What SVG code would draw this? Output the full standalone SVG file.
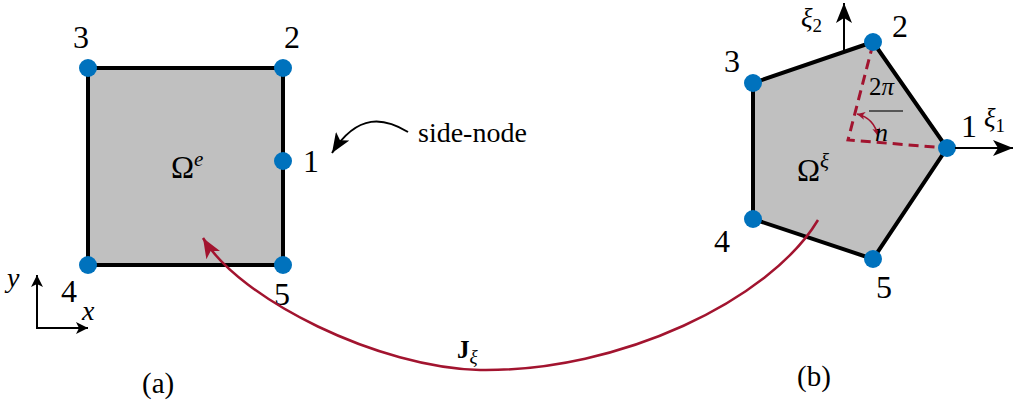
<svg xmlns="http://www.w3.org/2000/svg" width="1013" height="410" viewBox="0 0 1013 410">
<style>
.el{fill:#c0c0c0;stroke:#000;stroke-width:4;stroke-linejoin:miter}
.nd{fill:#0072bd}
.t{font-family:"Liberation Serif",serif;fill:#000}
.num{font-size:32px}
.lab{font-size:29px}
.i{font-style:italic}
.ax{stroke:#000;stroke-width:2;fill:none}
.red{stroke:#a2142f;fill:none}
</style>
<defs>
<marker id="ab" markerWidth="12" markerHeight="12" refX="12" refY="6" orient="auto" markerUnits="userSpaceOnUse" viewBox="0 0 12 12"><path d="M0,0 L12,6 L0,12 L3,6 z" fill="#000"/></marker>
<marker id="abig" markerWidth="20" markerHeight="16" refX="20" refY="8" orient="auto" markerUnits="userSpaceOnUse" viewBox="0 0 20 16"><path d="M0,0 L20,8 L0,16 L5,8 z" fill="#000"/></marker>
<marker id="ar" markerWidth="20" markerHeight="16" refX="20" refY="8" orient="auto" markerUnits="userSpaceOnUse" viewBox="0 0 20 16"><path d="M0,0 L20,8 L0,16 L5,8 z" fill="#a2142f"/></marker>
<marker id="ars" markerWidth="8" markerHeight="8" refX="8" refY="4" orient="auto-start-reverse" markerUnits="userSpaceOnUse" viewBox="0 0 8 8"><path d="M0,0 L8,4 L0,8 L2,4 z" fill="#a2142f"/></marker>
</defs>

<g id="elementA">
<rect class="el" x="88" y="68" width="195" height="197"/>
<text class="t" x="171" y="178" font-size="31">Ω<tspan class="i" font-size="21" dy="-12">e</tspan></text>
</g>
<g id="nodeA3"><circle class="nd" cx="88" cy="68" r="9"/><text class="t num" x="73" y="48">3</text></g>
<g id="nodeA2"><circle class="nd" cx="283" cy="68" r="9"/><text class="t num" x="284" y="48">2</text></g>
<g id="nodeA1"><circle class="nd" cx="283" cy="161" r="9"/><text class="t num" x="303" y="172">1</text></g>
<g id="nodeA4"><circle class="nd" cx="88" cy="265" r="9"/><text class="t num" x="61" y="302">4</text></g>
<g id="nodeA5"><circle class="nd" cx="283" cy="265" r="9"/><text class="t num" x="274" y="305">5</text></g>
<g id="axesA">
<path class="ax" d="M37,329 V275" marker-end="url(#ab)"/>
<path class="ax" d="M36,328 H88" marker-end="url(#ab)"/>
<text class="t i" x="7" y="287" font-size="28">y</text>
<text class="t i" x="82" y="320" font-size="28">x</text>
</g>
<text class="t lab" x="142" y="393">(a)</text>

<g id="elementB">
<polygon class="el" points="873,42 947,148 873,259 753,219 753,83"/>
<text class="t" x="797" y="181" font-size="31">Ω<tspan class="i" font-size="21" dy="-13">ξ</tspan></text>
<path class="red" stroke-width="3" stroke-dasharray="10,6" d="M873,44 L848,140 L947,148"/>
<path class="red" stroke-width="1.6" d="M857,114 Q874,118 878,136" marker-start="url(#ars)" marker-end="url(#ars)"/>
<text class="t" x="869" y="95" font-size="25">2<tspan class="i">π</tspan></text>
<path d="M869,111 H903" stroke="#333" stroke-width="1.5"/>
<text class="t i" x="875" y="141" font-size="26">n</text>
</g>
<g id="nodeB2"><circle class="nd" cx="873" cy="42" r="9"/><text class="t num" x="892" y="37">2</text></g>
<g id="nodeB1"><circle class="nd" cx="947" cy="148" r="9"/><text class="t num" x="961" y="137">1</text></g>
<g id="nodeB5"><circle class="nd" cx="873" cy="259" r="9"/><text class="t num" x="876" y="298">5</text></g>
<g id="nodeB4"><circle class="nd" cx="753" cy="219" r="9"/><text class="t num" x="714" y="252">4</text></g>
<g id="nodeB3"><circle class="nd" cx="753" cy="83" r="9"/><text class="t num" x="724" y="72">3</text></g>
<g id="axesB">
<path class="ax" d="M844,52 V3" marker-end="url(#abig)"/>
<path class="ax" d="M955,148 H1013" marker-end="url(#abig)"/>
<text class="t i" x="801" y="27" font-size="27">ξ<tspan font-style="normal" font-size="19" dy="5">2</tspan></text>
<text class="t i" x="984" y="127" font-size="27">ξ<tspan font-style="normal" font-size="19" dy="5">1</tspan></text>
</g>
<text class="t lab" x="797" y="386">(b)</text>

<g id="connectors">
<path class="red" stroke-width="2.5" d="M818,220 C770,300 620,372 480,370 C380,368 240,300 203,238" marker-end="url(#ar)"/>
<text class="t" x="457" y="358" font-weight="bold" font-size="25">J<tspan class="i" font-weight="normal" font-size="19" dy="5">ξ</tspan></text>
<path class="ax" d="M408,132 C385,118 358,112 332,153" marker-end="url(#abig)"/>
<text class="t" x="418" y="142" font-size="28">side-node</text>
</g>
</svg>
